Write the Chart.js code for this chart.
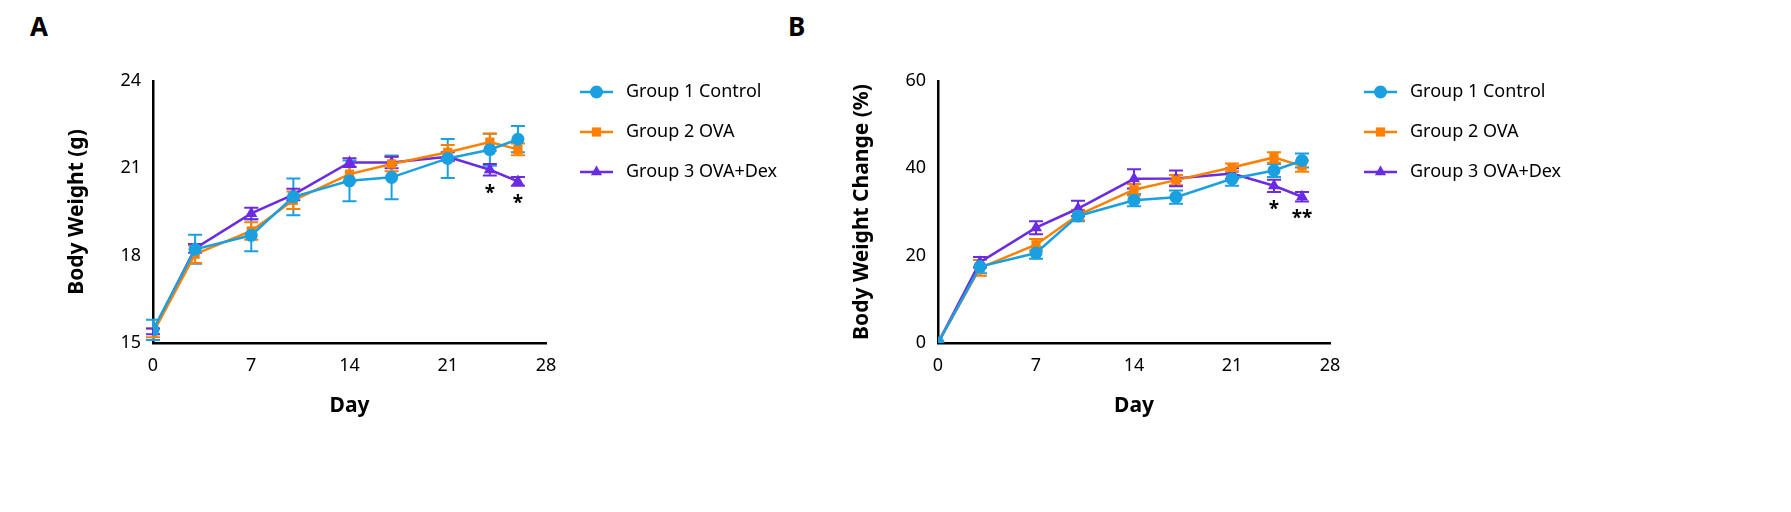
<!DOCTYPE html>
<html><head><meta charset="utf-8">
<script src="https://cdn.jsdelivr.net/npm/chart.js@4/dist/chart.umd.min.js"></script>
<style>
body{margin:0;background:#fff;width:1791px;height:512px;position:relative;overflow:hidden;font-family:"Noto Sans",sans-serif}
.wrap{position:absolute;top:0;height:512px}
.lbl{position:absolute;top:8px;font-weight:bold;font-size:26px;font-family:"Noto Sans",sans-serif}
</style></head><body>
<div class="lbl" style="left:30px">A</div>
<div class="lbl" style="left:788px">B</div>
<div class="wrap" style="left:0;width:785px"><canvas id="cA"></canvas></div>
<div class="wrap" style="left:785px;width:1006px"><canvas id="cB"></canvas></div>
<script>
const days = [0,3,7,10,14,17,21,24,26];
const groupNames = ["Group 1 Control","Group 2 OVA","Group 3 OVA+Dex"];
const colors = ["#1aa0e0","#ff8000","#6a2be2"];
const markers = ["circle","rect","triangle"];

const weightG1 = [15.45,18.22,18.7,20.02,20.57,20.69,21.34,21.64,22.0];
const weightG2 = [15.35,18.05,18.85,19.9,20.8,21.15,21.55,21.9,21.65];
const weightG3 = [15.4,18.25,19.45,20.1,21.2,21.2,21.4,20.95,20.55];
const weightErrG1 = [0.35,0.5,0.55,0.63,0.7,0.75,0.67,0.55,0.45];
const weightErrG2 = [0.15,0.3,0.3,0.3,0.25,0.25,0.25,0.3,0.2];
const weightErrG3 = [0.1,0.15,0.2,0.2,0.15,0.2,0.15,0.2,0.15];
const weightStars = ["","","","","","","","*","*"];

const changeG1 = [0,17.5,20.6,29.1,32.7,33.4,37.6,39.5,41.8];
const changeG2 = [0,17.2,22.5,29.3,35.1,37.3,40.2,42.5,40.5];
const changeG3 = [0,18.5,26.4,30.8,37.6,37.7,38.8,36.0,33.5];
const changeErrG1 = [0,1.5,1.3,1.2,1.4,1.5,1.6,1.5,1.6];
const changeErrG2 = [0,1.8,1.3,1.2,1.3,1.2,0.9,1.2,1.3];
const changeErrG3 = [0,1.2,1.5,1.8,2.2,1.8,1.2,1.4,1.1];
const changeStars = ["","","","","","","","*","**"];

const yTicksA = [15,18,21,24];
const yTicksB = [0,20,40,60];
const xTicks = [0,7,14,21,28];

const errPlugin = {
  id:'errbars',
  beforeDatasetsDraw(chart){
    const {ctx,scales:{x,y}} = chart;
    chart.data.datasets.forEach(ds=>{
      ctx.save();ctx.strokeStyle=ds.borderColor;ctx.lineWidth=2;
      ds.data.forEach((p,i)=>{
        const e=ds.err[i]; if(!e) return;
        const px=x.getPixelForValue(p.x), y1=y.getPixelForValue(p.y+e), y2=y.getPixelForValue(p.y-e);
        ctx.beginPath();ctx.moveTo(px,y1);ctx.lineTo(px,y2);
        ctx.moveTo(px-7,y1);ctx.lineTo(px+7,y1);ctx.moveTo(px-7,y2);ctx.lineTo(px+7,y2);ctx.stroke();
      });
      ctx.restore();
    });
  },
  afterDatasetsDraw(chart){
    const {ctx,scales:{x,y}} = chart;
    const ds=chart.data.datasets[2]; const stars=chart.options.plugins.errbars.stars;
    ctx.save();ctx.fillStyle='#000';ctx.font='bold 19px "Noto Sans"';ctx.textAlign='center';ctx.textBaseline='top';
    stars.forEach((s,i)=>{ if(!s) return;
      const p=ds.data[i]; ctx.fillText(s,x.getPixelForValue(p.x),y.getPixelForValue(p.y-ds.err[i])+8);
    });
    ctx.font='18px "Noto Sans"';ctx.textAlign='left';ctx.textBaseline='middle';
    const lx=chart.chartArea.right+34;
    chart.data.datasets.forEach((d,i)=>{
      const ly=92+i*40;
      ctx.strokeStyle=d.borderColor;ctx.lineWidth=2.5;ctx.beginPath();ctx.moveTo(lx,ly);ctx.lineTo(lx+33,ly);ctx.stroke();
      ctx.fillStyle=d.borderColor;
      Chart.helpers.drawPoint(ctx,{pointStyle:d.pointStyle,radius:6.5,borderWidth:0},lx+16.5,ly);
      ctx.fillStyle='#000';ctx.fillText(groupNames[i],lx+46,ly);
    });
    ctx.restore();
  }
};

function makeChart(id,series,errs,ymin,ymax,ytitle,stars,padRight){
  const datasets = series.map((s,i)=>({
    label:groupNames[i],
    data:s.map((v,j)=>({x:days[j],y:v})),
    err:errs[i],
    borderColor:colors[i],backgroundColor:colors[i],
    pointStyle:markers[i],pointRadius:i==2?7:6.5,pointBorderWidth:0,borderWidth:2.5,tension:0
  }));
  return new Chart(document.getElementById(id),{
    type:'line',
    data:{datasets},
    plugins:[errPlugin],
    options:{
      responsive:false,animation:false,devicePixelRatio:1,
      layout:{padding:{left:60,right:padRight,top:81,bottom:89}},
      plugins:{legend:{display:false},tooltip:{enabled:false},errbars:{stars}},
      scales:{
        x:{type:'linear',min:0,max:28,grid:{display:false,drawTicks:true,tickLength:8,tickWidth:2,tickColor:'#000'},
           border:{color:'#000',width:2.5},
           afterBuildTicks(s){s.ticks=xTicks.map(v=>({value:v}));},
           ticks:{color:'#000',font:{size:18,family:'Noto Sans'},padding:4},
           title:{display:true,text:'Day',color:'#000',font:{size:21,weight:'bold',family:'Noto Sans'},padding:{top:10}},
           afterFit(s){s.height=80;}},
        y:{min:ymin,max:ymax,grid:{display:false,tickLength:8,tickWidth:2,tickColor:'#000'},
           border:{color:'#000',width:2.5},
           afterBuildTicks(s){s.ticks=(ymin==15?yTicksA:yTicksB).map(v=>({value:v}));},
           ticks:{color:'#000',font:{size:18,family:'Noto Sans'},padding:4},
           title:{display:true,text:ytitle,color:'#000',font:{size:21,weight:'bold',family:'Noto Sans'},padding:{bottom:8}},
           afterFit(s){s.width=93;}}
      }
    }
  });
}
const cA=document.getElementById('cA');cA.width=785;cA.height=512;
const cB=document.getElementById('cB');cB.width=1006;cB.height=512;
makeChart('cA',[weightG1,weightG2,weightG3],[weightErrG1,weightErrG2,weightErrG3],15,24,'Body Weight (g)',weightStars,239);
makeChart('cB',[changeG1,changeG2,changeG3],[changeErrG1,changeErrG2,changeErrG3],0,60,'Body Weight Change (%)',changeStars,461);
</script></body></html>
